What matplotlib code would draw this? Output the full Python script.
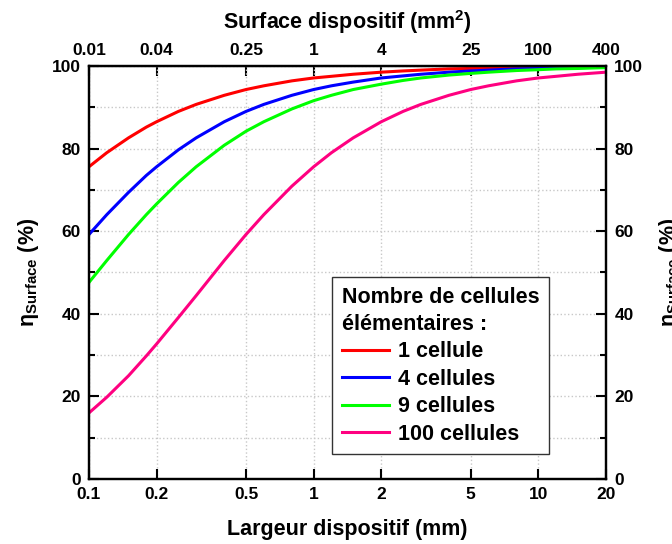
import numpy as np
import matplotlib
matplotlib.use("Agg")
import matplotlib.pyplot as plt
from matplotlib.ticker import FixedLocator, NullLocator, MultipleLocator

plt.rcParams['font.family'] = ['Liberation Sans', 'DejaVu Sans']
plt.rcParams['font.weight'] = 'bold'
plt.rcParams['mathtext.fontset'] = 'custom'
plt.rcParams['mathtext.rm'] = 'Liberation Sans:bold'
plt.rcParams['mathtext.it'] = 'Liberation Sans:bold'
plt.rcParams['mathtext.bf'] = 'Liberation Sans:bold'

# largeur du dispositif (mm)
largeur = [0.1, 0.12, 0.15, 0.18, 0.2, 0.25, 0.3, 0.4, 0.5, 0.6, 0.8, 1, 1.2, 1.5,
           2, 2.5, 3, 4, 5, 6, 8, 10, 12, 15, 20]

# rendement surfacique (%)
eta_1 = [75.6, 79.0, 82.6, 85.2, 86.5, 89.0, 90.7, 92.9, 94.3, 95.2, 96.4, 97.1, 97.5, 98.0,
         98.5, 98.8, 99.0, 99.3, 99.4, 99.5, 99.6, 99.7, 99.8, 99.8, 99.9]
eta_4 = [59.2, 64.0, 69.4, 73.5, 75.6, 79.7, 82.6, 86.5, 89.0, 90.7, 92.9, 94.3, 95.2, 96.1,
         97.1, 97.6, 98.0, 98.5, 98.8, 99.0, 99.3, 99.4, 99.5, 99.6, 99.7]
eta_9 = [47.6, 52.9, 59.2, 64.0, 66.6, 71.8, 75.6, 80.8, 84.2, 86.5, 89.6, 91.6, 92.9, 94.3,
         95.6, 96.5, 97.1, 97.8, 98.2, 98.5, 98.9, 99.1, 99.3, 99.4, 99.6]
eta_100 = [16.0, 19.8, 25.0, 29.8, 32.7, 39.1, 44.4, 52.9, 59.2, 64.0, 70.9, 75.6, 79.0, 82.6,
           86.5, 89.0, 90.7, 92.9, 94.3, 95.2, 96.4, 97.1, 97.5, 98.0, 98.5]

series_labels = ['1 cellule', '4 cellules', '9 cellules', '100 cellules']
series_colors = ['#ff0000', '#0000ff', '#00ff00', '#ff0080']

bottom_ticks = [0.1, 0.2, 0.5, 1, 2, 5, 10, 20]
bottom_labels = ['0.1', '0.2', '0.5', '1', '2', '5', '10', '20']
top_ticks = [0.01, 0.04, 0.25, 1, 4, 25, 100, 400]
top_labels = ['0.01', '0.04', '0.25', '1', '4', '25', '100', '400']
y_ticks = [0, 20, 40, 60, 80, 100]

fig = plt.figure(figsize=(6.72, 5.44), dpi=100)
ax = fig.add_axes([0.1324, 0.1195, 0.7693, 0.7592])

for vals, lab, col in zip([eta_1, eta_4, eta_9, eta_100], series_labels, series_colors):
    ax.plot(largeur, vals, color=col, lw=2.2, label=lab)

ax.set_xscale('log')
ax.set_xlim(0.1, 20)
ax.set_ylim(0, 100)
ax.xaxis.set_major_locator(FixedLocator(bottom_ticks))
ax.set_xticklabels(bottom_labels)
ax.xaxis.set_minor_locator(NullLocator())
ax.set_yticks(y_ticks)
ax.yaxis.set_minor_locator(MultipleLocator(10))

ax.grid(True, which='both', axis='y', color='#c8c8c8', ls=':', lw=1)
ax.grid(True, which='major', axis='x', color='#c8c8c8', ls=':', lw=1)

tick_kw = dict(direction='in', labelsize=12.5, width=1.5, pad=6)
ax.tick_params(which='major', length=7, **tick_kw)
ax.tick_params(which='minor', length=4, direction='in', width=1.5)
for s in ax.spines.values():
    s.set_linewidth(1.6)

# axe du haut : surface = largeur^2
sec = ax.secondary_xaxis('top', functions=(lambda w: w ** 2, lambda s: np.sqrt(s)))
sec.xaxis.set_major_locator(FixedLocator(top_ticks))
sec.set_xticklabels(top_labels)
sec.xaxis.set_minor_locator(NullLocator())
sec.tick_params(which='major', length=7, **tick_kw)
sec.set_xlabel('Surface dispositif (mm$^{2}$)', fontsize=15.5, fontweight='bold', labelpad=10)

# axe de droite
ax2 = ax.twinx()
ax2.set_ylim(0, 100)
ax2.set_yticks(y_ticks)
ax2.yaxis.set_minor_locator(MultipleLocator(10))
ax2.tick_params(which='major', length=7, **tick_kw)
ax2.tick_params(which='minor', length=4, direction='in', width=1.5)
for s in ax2.spines.values():
    s.set_linewidth(1.6)

ylab = r'$\eta_{\mathrm{Surface}}$ (%)'
ax.set_xlabel('Largeur dispositif (mm)', fontsize=15.5, fontweight='bold', labelpad=12)
ax.set_ylabel(ylab, fontsize=15.5, fontweight='bold', labelpad=8)
ax2.set_ylabel(ylab, fontsize=15.5, fontweight='bold', labelpad=10)

leg = ax.legend(loc='lower left', bbox_to_anchor=(0.47, 0.06), fontsize=15.5,
                title='Nombre de cellules\nélémentaires :', title_fontsize=15.5,
                alignment='left', frameon=True, fancybox=False, framealpha=1,
                edgecolor='#333333', handlelength=2.2, handletextpad=0.4,
                labelspacing=0.3, borderpad=0.45, borderaxespad=0)
leg.get_frame().set_linewidth(1.0)
leg.get_title().set_fontweight('bold')
leg.get_title().set_linespacing(1.35)
leg.set_zorder(5)

fig.savefig('out.png', dpi=100)
